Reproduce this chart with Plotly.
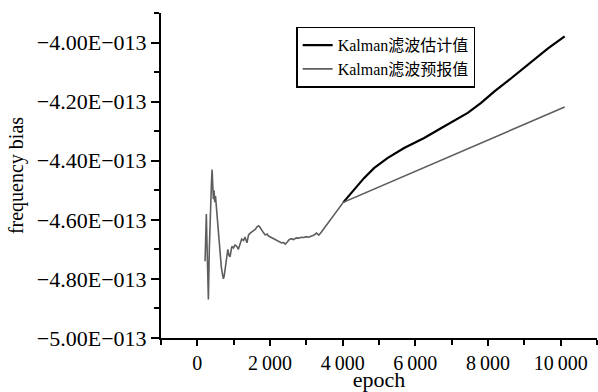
import plotly.graph_objects as go
import numpy as np

# ---- data (values in units of 1E-013) ----
pred_epoch = [213, 222, 235, 248, 262, 280, 304, 330, 360, 390, 406, 425, 442, 461, 480, 500, 530, 570, 610, 660,
              700, 718, 740, 790, 840, 870, 900, 950, 994, 1040, 1088, 1130, 1180, 1220, 1271, 1310, 1365, 1410, 1456, 1500,
              1547, 1600, 1641, 1690, 1732, 1780, 1823, 1870, 1920, 1961, 2010, 2060, 2100, 2146, 2200, 2260, 2320, 2376, 2420, 2470,
              2520, 2580, 2652, 2720, 2790, 2860, 2928, 3000, 3070, 3140, 3204, 3280, 3343, 3410, 3481, 3570, 3666, 3760, 3851, 3940,
              4017, 10110]
pred_value = [-4.74, -4.66, -4.70, -4.58, -4.66, -4.77, -4.87, -4.70, -4.55, -4.47, -4.43, -4.48, -4.53, -4.50, -4.54, -4.52, -4.57, -4.63, -4.70, -4.76,
              -4.79, -4.80, -4.79, -4.75, -4.70, -4.72, -4.725, -4.69, -4.695, -4.685, -4.69, -4.70, -4.675, -4.665, -4.67, -4.658, -4.678, -4.651, -4.645, -4.641,
              -4.634, -4.632, -4.624, -4.62, -4.627, -4.634, -4.644, -4.651, -4.648, -4.655, -4.658, -4.662, -4.666, -4.668, -4.672, -4.676, -4.678, -4.677, -4.682, -4.676,
              -4.668, -4.664, -4.667, -4.661, -4.662, -4.659, -4.660, -4.657, -4.659, -4.655, -4.652, -4.645, -4.652, -4.642, -4.630, -4.615, -4.598, -4.583, -4.568, -4.553,
              -4.541, -4.218]

est_epoch = [4017, 4310, 4586, 4862, 5232, 5691, 6243, 6705, 7072, 7442, 7810, 8177, 8547, 8914, 9282, 9652, 10110]
est_value = [-4.541, -4.498, -4.459, -4.425, -4.391, -4.357, -4.323, -4.290, -4.265, -4.238, -4.204, -4.165, -4.130, -4.093, -4.058, -4.020, -3.979]

assert len(pred_epoch) == len(pred_value)
assert len(est_epoch) == len(est_value)

series_names = ["Kalman滤波估计值", "Kalman滤波预报值"]

y_tick_vals = [-5.0, -4.8, -4.6, -4.4, -4.2, -4.0]
y_tick_text = ["\u22125.00E\u2212013", "\u22124.80E\u2212013", "\u22124.60E\u2212013",
               "\u22124.40E\u2212013", "\u22124.20E\u2212013", "\u22124.00E\u2212013"]
x_tick_vals = [0, 2000, 4000, 6000, 8000, 10000]
x_tick_text = ["0", "2\u2009000", "4\u2009000", "6\u2009000", "8\u2009000", "10\u2009000"]

SCALE = 1e-13
FONT = "Liberation Serif, 'Times New Roman', 'Noto Sans CJK SC', serif"

fig = go.Figure()
fig.add_trace(go.Scatter(x=est_epoch, y=np.array(est_value) * SCALE, mode="lines",
                         name=series_names[0], line=dict(color="#000000", width=2.2)))
fig.add_trace(go.Scatter(x=pred_epoch, y=np.array(pred_value) * SCALE, mode="lines",
                         name=series_names[1], line=dict(color="#5e5e5e", width=1.6)))

fig.update_layout(
    width=598, height=392,
    margin=dict(l=161, r=1, t=13, b=54),
    paper_bgcolor="white", plot_bgcolor="white",
    font=dict(family=FONT, color="black"),
    showlegend=True,
    legend=dict(x=0.31, y=0.958, xanchor="left", yanchor="top",
                bordercolor="black", borderwidth=1.5, bgcolor="white",
                font=dict(size=16, family=FONT), tracegroupgap=0, itemwidth=30),
    xaxis=dict(range=[-1000, 11000], showgrid=False, zeroline=False,
               showline=True, linecolor="black", linewidth=2,
               tickmode="array", tickvals=x_tick_vals, ticktext=x_tick_text,
               ticks="outside", ticklen=6, tickwidth=1.5, tickcolor="black",
               minor=dict(tickmode="linear", tick0=-1000, dtick=2000, ticks="outside",
                          ticklen=5, tickwidth=1.5, tickcolor="black"),
               tickfont=dict(size=20, family=FONT),
               title=dict(text="epoch", font=dict(size=22, family=FONT), standoff=2)),
    yaxis=dict(range=[-5.0 * SCALE, -3.9 * SCALE], showgrid=False, zeroline=False,
               showline=True, linecolor="black", linewidth=2,
               tickmode="array", tickvals=[v * SCALE for v in y_tick_vals], ticktext=y_tick_text,
               ticks="outside", ticklen=8, tickwidth=1.5, tickcolor="black",
               minor=dict(tickmode="linear", tick0=-4.9 * SCALE, dtick=0.2 * SCALE, ticks="outside",
                          ticklen=5, tickwidth=1.5, tickcolor="black"),
               tickfont=dict(size=22, family=FONT),
               title=dict(text="frequency bias", font=dict(size=20, family=FONT), standoff=8)),
)

fig.write_html("out.html")
